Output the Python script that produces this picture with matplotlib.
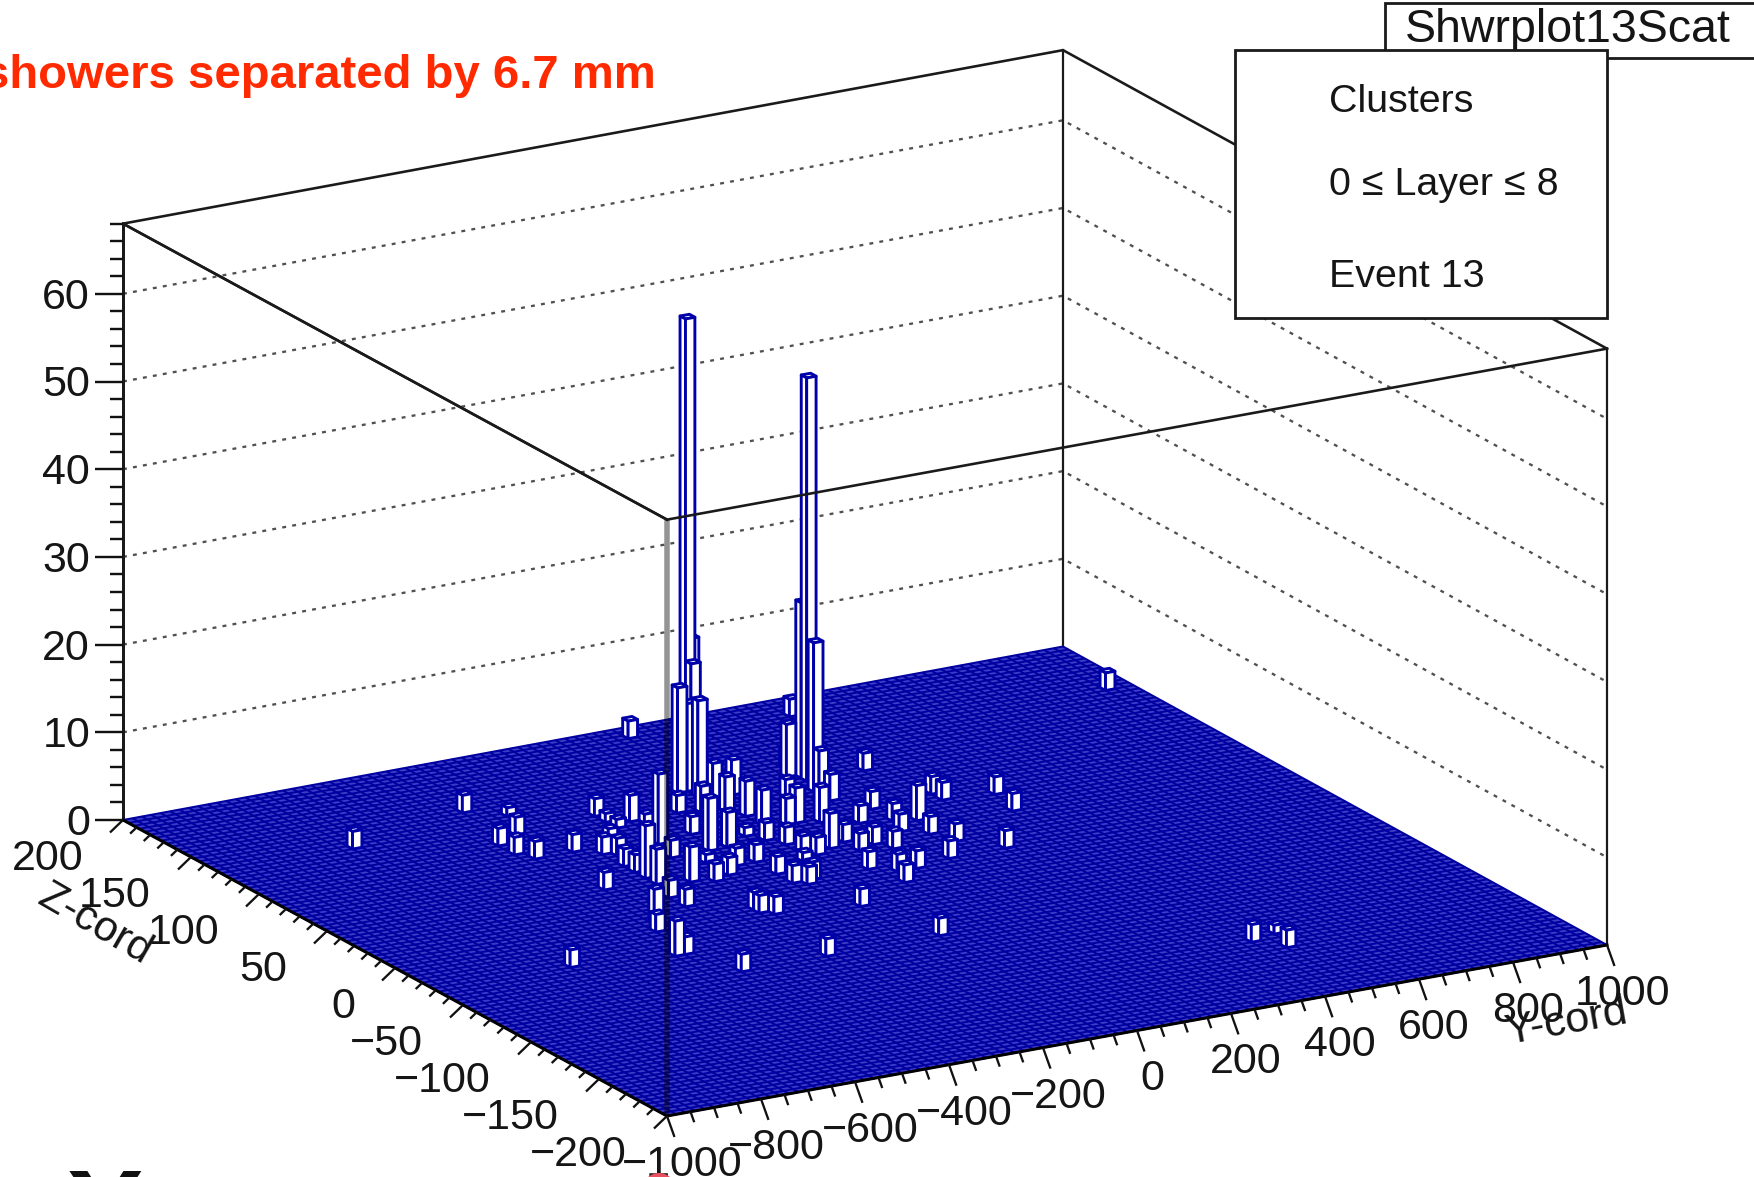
import numpy as np
import matplotlib
matplotlib.use("Agg")
import matplotlib.pyplot as plt
from matplotlib.collections import LineCollection, PolyCollection
from matplotlib.patches import Polygon, Rectangle, Circle

plt.rcParams['font.family'] = ['Liberation Sans', 'DejaVu Sans']

# ---------- data: lower edge of each occupied bin (Y-cord, Z-cord) and content ----------
y_cord = [-440,-380,-420,-480,-480,-460,-380,-240,-240,-280,-240,-340,-320,-200,-180,-340,-340,-340,-220,-340,
          -440,-460,-480,-720,-240,-100,-280,-140,-360,-360,-520,-500,-160,-60,-120,-20,-240,-200,-200,-160,
          -60,-120,0,-120,-40,-260,-260,-240,40,-20,60,-20,-120,-100,-40,0,-80,100,40,180,
          80,160,80,40,-80,220,120,220,140,80,-280,-460,0,360,360,260,200,240,260,200,
          120,60,460,440,320,-40,940,40,360,320,440,500,480,-720,120,
          0,200,200,180,180,180,200,0,40,-40,0,20,-20,-20]
z_cord = [144,132,112,104,92,84,84,116,108,92,100,76,72,104,100,60,52,44,76,36,
          40,-4,-12,-32,60,104,32,80,20,8,-40,-40,60,100,60,96,28,48,32,40,
          68,40,76,24,60,-8,-12,-16,72,52,72,40,12,8,32,36,12,68,40,88,
          44,60,32,12,-24,72,36,56,28,4,-68,-68,88,76,68,52,44,36,24,8,
          4,-8,64,44,8,-68,148,188,180,112,-132,-128,-144,128,100,
          132,112,116,100,96,120,128,112,112,124,128,136,124,116]
counts = [2,1,2,2,2,2,2,2,1,1,1,2,2,3,1,2,2,6,8,4,
          2,4,2,2,2,2,4,2,2,2,4,2,6,3,4,4,2,1,2,2,
          1,2,4,2,2,2,2,2,3,2,4,2,2,2,1,2,2,4,4,3,
          2,2,2,2,2,2,2,2,2,2,2,2,4,2,2,4,2,2,2,2,
          2,2,2,2,2,2,2,2,2,2,2,1,2,2,2,
          53,46,20,17,5,6,2,4,4,12,14,16,10,11]

y_ticks = [-1000,-800,-600,-400,-200,0,200,400,600,800,1000]
z_ticks = [200,150,100,50,0,-50,-100,-150,-200]
count_ticks = [0,10,20,30,40,50,60]
COUNT_MAX = 68
Y_BIN, Z_BIN = 20, 4
N_BINS = 100

# ---------- projection of the lego box (pixel frame of the page) ----------
FRONT = np.array([667.0, 1116.0])
RIGHT_VEC = np.array([940.0, -171.0])   # y from -1000 to 1000
LEFT_VEC = np.array([-544.0, -296.0])   # z from -200 to 200
UP_PER_COUNT = 8.77
BACK_LIFT = 2.5                         # far corner sits slightly higher

def proj(y, z, c=0.0):
    u = (np.asarray(y, float) + 1000) / 2000
    v = (np.asarray(z, float) + 200) / 400
    return (FRONT[0] + u*RIGHT_VEC[0] + v*LEFT_VEC[0],
            FRONT[1] + u*RIGHT_VEC[1] + v*LEFT_VEC[1] - u*v*BACK_LIFT - np.asarray(c, float)*UP_PER_COUNT)

def P(y, z, c=0.0):
    return np.array(proj(y, z, c))

BLUE = '#0000a8'
px = 0.72  # points per pixel at dpi 100

fig = plt.figure(figsize=(17.54, 11.77), dpi=100)
ax = fig.add_axes([0, 0, 1, 1])
ax.set_xlim(0, 1754)
ax.set_ylim(1177, 0)
ax.axis('off')

YL, YH, ZL, ZH = -1000, 1000, -200, 200

# dotted grid on the two back walls
for c in count_ticks[1:]:
    ax.plot(*zip(P(YL, ZH, c), P(YH, ZH, c), P(YH, ZL, c)), color='#505050', lw=2.3*px,
            ls=(0, (1.7, 2.7)), zorder=1)

# back frame and verticals
ax.plot(*zip(P(YL, ZL, COUNT_MAX), P(YL, ZH, COUNT_MAX), P(YH, ZH, COUNT_MAX), P(YH, ZL, COUNT_MAX)),
        color='#1a1a1a', lw=2.6*px, zorder=1.5)
for (a, b) in [(YH, ZH), (YH, ZL)]:
    ax.plot(*zip(P(a, b, 0), P(a, b, COUNT_MAX)), color='#1a1a1a', lw=2.2*px, zorder=1.5)
ax.plot(*zip(P(YL, ZH, 0), P(YL, ZH, COUNT_MAX)), color='#1a1a1a', lw=3.0*px, zorder=1.5)

# floor: every empty bin of the 100 x 100 histogram
floor = [P(YL, ZL), P(YH, ZL), P(YH, ZH), P(YL, ZH)]
ax.add_patch(Polygon(floor, closed=True, fc='#3c3cc8', ec='none', zorder=2))
ys = np.linspace(YL, YH, N_BINS + 1)
zs = np.linspace(ZL, ZH, N_BINS + 1)
segs = [[P(y, ZL), P(y, ZH)] for y in ys] + [[P(YL, z), P(YH, z)] for z in zs]
ax.add_collection(LineCollection(segs, colors='#0000a0', linewidths=2.0*px, zorder=2.1))

# lego bars, back to front
order = sorted(range(len(counts)), key=lambda k: (-y_cord[k], -z_cord[k]))
polys = []
for k in order:
    y, z, c = y_cord[k], z_cord[k], counts[k]
    y2, z2 = y + Y_BIN, z + Z_BIN
    polys.append([P(y, z, c), P(y2, z, c), P(y2, z2, c), P(y, z2, c)])   # top
    polys.append([P(y, z, 0), P(y, z2, 0), P(y, z2, c), P(y, z, c)])     # left wall
    polys.append([P(y, z, 0), P(y2, z, 0), P(y2, z, c), P(y, z, c)])     # right wall
ax.add_collection(PolyCollection(polys, facecolors='white', edgecolors=BLUE,
                                 linewidths=2.9*px, zorder=3))

# front frame, drawn over the bars
ax.plot(*zip(P(YL, ZH, COUNT_MAX), P(YL, ZL, COUNT_MAX), P(YH, ZL, COUNT_MAX)),
        color='#1a1a1a', lw=2.6*px, zorder=4)
ax.plot(*zip(P(YL, ZL, 0), P(YL, ZL, COUNT_MAX)), color='black', alpha=0.42, lw=5.5*px,
        solid_capstyle='butt', zorder=4)

# floor axes
ax.plot(*zip(P(YL, ZH), P(YL, ZL), P(YH, ZL)), color='black', lw=3.0*px, zorder=5)

tick_kw = dict(color='#111111', zorder=5, solid_capstyle='butt')
# Y axis ticks
for y in np.arange(YL, YH + 1, 50):
    x0, y0 = proj(y, ZL)
    f = 1.0 if y % 200 == 0 else 0.5
    ax.plot([x0, x0 + 7.5*f], [y0, y0 + 21*f], lw=2.3*px, **tick_kw)
# Z axis ticks
for z in np.arange(ZL, ZH + 1, 10):
    x0, y0 = proj(YL, z)
    f = 1.0 if z % 50 == 0 else 0.5
    ax.plot([x0, x0 - 13*f], [y0, y0 + 12.5*f], lw=2.3*px, **tick_kw)
# count axis ticks
for c in range(0, COUNT_MAX + 1, 2):
    x0, y0 = proj(YL, ZH, c)
    L = 28 if c % 10 == 0 else 13
    ax.plot([x0 - L, x0], [y0, y0], lw=2.4*px, **tick_kw)

# tick labels
FS = 31
TXT = '#151515'
def lab(v):
    return str(v).replace('-', '\u2212')
for c in count_ticks:
    x0, y0 = proj(YL, ZH, c)
    ax.text(x0 - 33, y0 + 4, lab(c), ha='right', va='center', fontsize=FS, color=TXT, zorder=6)
for y in y_ticks:
    x0, y0 = proj(y, ZL)
    ax.text(x0 + 15, y0 + 49, lab(y), ha='center', va='center', fontsize=FS, color=TXT, zorder=6)
for z in z_ticks:
    x0, y0 = proj(YL, z)
    ax.text(x0 - 40, y0 + 39, lab(z), ha='right', va='center', fontsize=FS, color=TXT, zorder=6)

# axis titles
ax.text(95, 925, 'Z-cord', rotation=-30, rotation_mode='anchor', ha='center', va='center',
        fontsize=FS, color=TXT, zorder=6)
ax.text(1566, 1023, 'Y-cord', rotation=10, rotation_mode='anchor', ha='center', va='center',
        fontsize=FS, color=TXT, zorder=6)

# histogram title box, clipped by the page edge
ax.add_patch(Rectangle((1385, 3), 420, 55, fc='white', ec='#1a1a1a', lw=2.8*px, zorder=7))
ax.text(1405, 42, 'Shwrplot13Scat', ha='left', va='baseline', fontsize=33.5, color=TXT, zorder=8)

# stats box
ax.add_patch(Rectangle((1235, 50), 372, 268, fc='white', ec='#1a1a1a', lw=2.8*px, zorder=9))
for txt, base in [('Clusters', 112), ('0 \u2264 Layer \u2264 8', 195), ('Event 13', 287)]:
    ax.text(1329, base, txt, ha='left', va='baseline', fontsize=28.4, color=TXT, zorder=10)

# annotation overlaid on the figure, cut by the left edge
ax.text(656, 88, 'showers separated by 6.7 mm', ha='right', va='baseline', fontsize=34,
        fontweight='bold', color='#ff2a00', zorder=11)

# fragments at the bottom edge of the page
ax.text(105, 1253, 'X', ha='center', va='baseline', fontsize=85, fontweight='bold', color='#111111', zorder=11)
ax.add_patch(Circle((659, 1190), 17, fc='#e8505f', ec='none', zorder=11))

fig.savefig('out.png', dpi=100)
